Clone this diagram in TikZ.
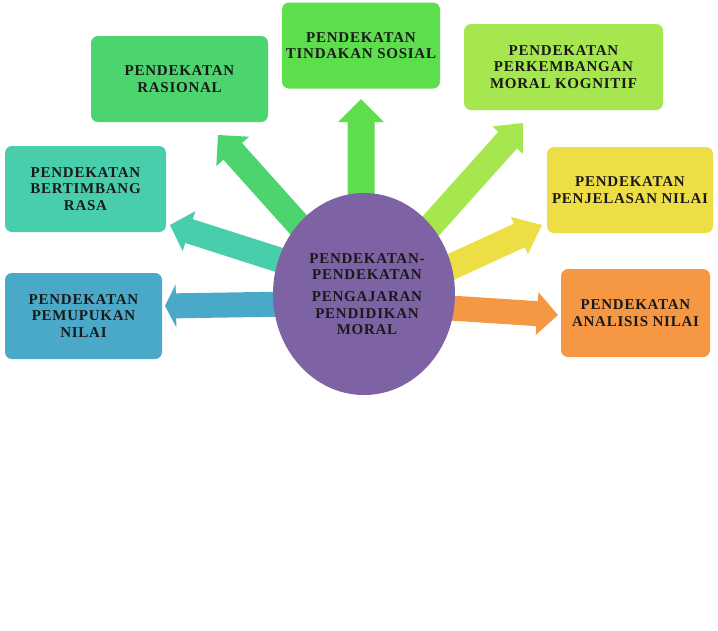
\documentclass[tikz,border=0pt]{standalone}
\usepackage{fontspec}
\setmainfont{Liberation Serif}[LetterSpace=5]
\usetikzlibrary{calc,shapes.geometric}
\definecolor{cRas}{HTML}{4CD56F}
\definecolor{cTin}{HTML}{5DDE4D}
\definecolor{cPer}{HTML}{A6E64E}
\definecolor{cPen}{HTML}{EEDE45}
\definecolor{cAna}{HTML}{F69843}
\definecolor{cBer}{HTML}{48CEAD}
\definecolor{cPem}{HTML}{4AA9C8}
\definecolor{cHub}{HTML}{7D62A4}
\newcommand\blockarr[6]{%
  % #1 start, #2 tip, #3 colour, #4 shaft half width, #5 head half width, #6 head length
  \coordinate (hb) at ($(#2)!#6!(#1)$);
  \fill[#3] ($(#1)!#4!90:(#2)$) -- ($(hb)!#4!90:(#2)$) -- ($(hb)!#5!90:(#2)$)
    -- (#2) -- ($(hb)!#5!-90:(#2)$) -- ($(hb)!#4!-90:(#2)$) -- ($(#1)!#4!-90:(#2)$) -- cycle;
}
\tikzset{
  box/.style={rounded corners=7pt, inner sep=0pt},
  lbl/.style={align=center, font=\fontsize{15}{16.5}\selectfont\bfseries, text=black!90},
}
\begin{document}
\begin{tikzpicture}[x=1pt,y=-1pt]
\useasboundingbox (0,0) rectangle (718,630);
\fill[white] (0,0) rectangle (718,630);
% boxes
\node[box, fill=cRas, minimum width=177pt, minimum height=86pt] (ras) at (179.5,79) {};
\node[box, fill=cTin, minimum width=158pt, minimum height=86pt] (tin) at (361,45.5) {};
\node[box, fill=cPer, minimum width=199pt, minimum height=86pt] (per) at (563.5,67) {};
\node[box, fill=cPen, minimum width=166pt, minimum height=86pt] (pen) at (630,190) {};
\node[box, fill=cAna, minimum width=149pt, minimum height=88pt] (ana) at (635.5,313) {};
\node[box, fill=cBer, minimum width=161pt, minimum height=86pt] (ber) at (85.5,189) {};
\node[box, fill=cPem, minimum width=157pt, minimum height=86pt] (pem) at (83.5,316) {};
% arrow end points
\coordinate (sRas) at (305,232); \coordinate (tRas) at (218,135);
\coordinate (sTin) at (361,215); \coordinate (tTin) at (361,99);
\coordinate (sPer) at (420,238); \coordinate (tPer) at (523,123);
\coordinate (sPen) at (440,272); \coordinate (tPen) at (542,225);
\coordinate (sAna) at (450,308); \coordinate (tAna) at (558,315);
\coordinate (sBer) at (295,265); \coordinate (tBer) at (170,225);
\coordinate (sPem) at (290,304); \coordinate (tPem) at (165,306);
\blockarr{sRas}{tRas}{cRas}{12.5pt}{22pt}{22pt}
\blockarr{sTin}{tTin}{cTin}{13.5pt}{23pt}{23pt}
\blockarr{sPer}{tPer}{cPer}{12.5pt}{20.5pt}{23pt}
\blockarr{sPen}{tPen}{cPen}{13pt}{20.5pt}{25pt}
\blockarr{sAna}{tAna}{cAna}{12.5pt}{21.5pt}{21pt}
\blockarr{sBer}{tBer}{cBer}{12.5pt}{21pt}{20pt}
\blockarr{sPem}{tPem}{cPem}{12.5pt}{21.5pt}{11pt}
% hub
\node[ellipse, fill=cHub, minimum width=182pt, minimum height=202pt, inner sep=0pt] (hub) at (364,294) {};
\node[lbl] (hubtext) at (367,294) {PENDEKATAN-\\PENDEKATAN\\[5.5pt]PENGAJARAN\\PENDIDIKAN\\MORAL};
% labels
\node[lbl] (rasT) at (ras) {PENDEKATAN\\RASIONAL};
\node[lbl] (tinT) at (tin) {PENDEKATAN\\TINDAKAN SOSIAL};
\node[lbl] (perT) at (per) {PENDEKATAN\\PERKEMBANGAN\\MORAL KOGNITIF};
\node[lbl] (penT) at (pen) {PENDEKATAN\\PENJELASAN NILAI};
\node[lbl] (anaT) at (ana) {PENDEKATAN\\ANALISIS NILAI};
\node[lbl] (berT) at (ber) {PENDEKATAN\\BERTIMBANG\\RASA};
\node[lbl] (pemT) at (pem) {PENDEKATAN\\PEMUPUKAN\\NILAI};
\end{tikzpicture}
\end{document}
